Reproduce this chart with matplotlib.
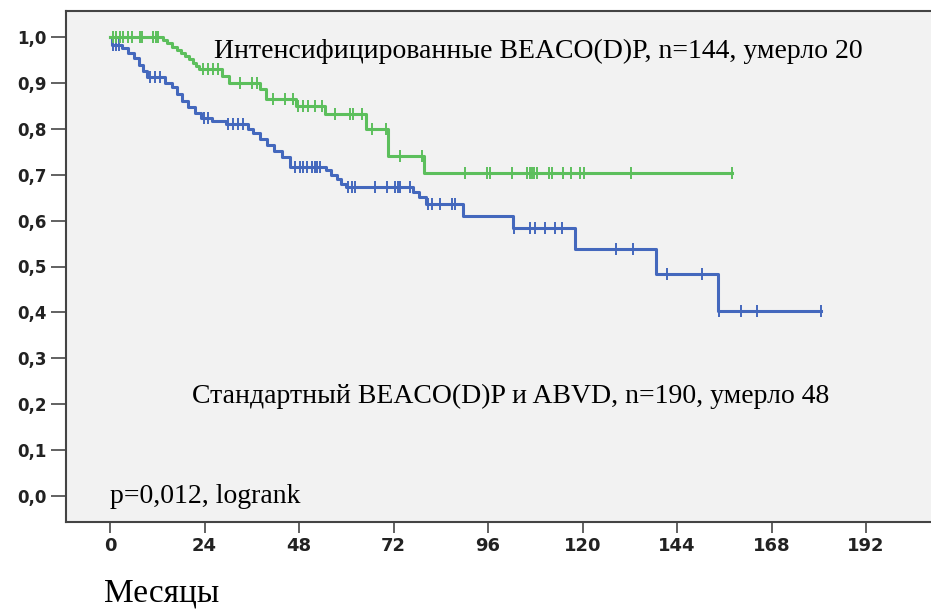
import numpy as np
import matplotlib
matplotlib.use("Agg")
import matplotlib.pyplot as plt

# intensified BEACO(D)P: event times (months) and survival after each event
green_t = [13.5, 14.5, 15.7, 17.0, 18.0, 19.0, 20.1, 21.1, 21.8, 22.6,
           28.4, 30.2, 38.1, 39.6, 47.2, 54.6, 65.0, 70.6, 79.7]
green_s = [0.993, 0.986, 0.979, 0.972, 0.965, 0.958, 0.951, 0.944, 0.937, 0.930,
           0.915, 0.900, 0.887, 0.864, 0.850, 0.832, 0.800, 0.740, 0.704]
green_end = 158.0
green_cens = [0.8, 1.5, 2.5, 3.3, 4.6, 5.6, 7.6, 8.1, 10.9, 11.7, 12.2,
              23.6, 24.9, 26.2, 27.4, 33.0, 36.1, 37.3,
              41.4, 44.4, 46.5, 47.7, 49.0, 50.3, 52.1, 53.8,
              57.1, 61.0, 61.7, 64.0, 66.5, 70.2, 73.7, 79.2,
              90.2, 95.7, 96.5, 102.1, 105.9, 106.7, 107.2, 107.7, 108.4,
              111.5, 112.3, 115.0, 117.1, 119.4, 120.4, 132.3, 158.0]

# standard BEACO(D)P and ABVD
blue_t = [0.5, 3.0, 4.6, 6.1, 7.4, 8.4, 9.4, 14.0, 15.7, 17.0, 18.3, 19.8,
          21.6, 23.1, 25.9, 29.5, 35.0, 36.3, 38.1, 39.9, 41.7, 43.7, 45.7,
          54.9, 56.1, 57.7, 58.7, 59.9, 77.0, 78.5, 80.3, 89.7, 102.4,
          118.1, 138.7, 154.4]
blue_s = [0.983, 0.975, 0.965, 0.955, 0.940, 0.925, 0.913, 0.900, 0.890, 0.875,
          0.860, 0.848, 0.834, 0.823, 0.817, 0.810, 0.800, 0.790, 0.778, 0.765,
          0.752, 0.738, 0.717, 0.710, 0.700, 0.690, 0.680, 0.674, 0.662, 0.652,
          0.636, 0.610, 0.583, 0.538, 0.484, 0.403]
blue_end = 180.6
blue_cens = [0.8, 1.5, 2.3, 10.2, 11.4, 12.7, 23.9, 24.9, 30.0, 31.2, 32.5, 33.8,
             47.0, 48.3, 49.0, 50.0, 51.3, 52.1, 52.6, 53.3,
             60.4, 61.5, 62.2, 67.3, 70.3, 72.4, 73.1, 73.7, 76.2,
             80.8, 81.8, 83.8, 86.9, 87.6,
             102.6, 106.7, 107.9, 110.5, 113.0, 114.8,
             128.5, 132.8, 141.5, 150.3, 154.7, 160.3, 164.3, 180.6]

xticks = [0, 24, 48, 72, 96, 120, 144, 168, 192]
yticks = [0.0, 0.1, 0.2, 0.3, 0.4, 0.5, 0.6, 0.7, 0.8, 0.9, 1.0]

label_int = "Интенсифицированные BEACO(D)P, n=144, умерло 20"
label_std = "Стандартный BEACO(D)P и ABVD, n=190, умерло 48"
label_p = "p=0,012, logrank"
xlabel = "Месяцы"

green_c = "#5cbf5c"
blue_c = "#4468bd"
serif = ["Liberation Serif", "DejaVu Serif"]


def curve(t, s, end):
    tt = np.array([0.0] + list(t) + [end])
    ss = np.array([1.0] + list(s) + [s[-1]])
    return tt, ss


def surv_at(t, s, x):
    idx = np.searchsorted(np.array(t), np.array(x), side="right")
    full = np.array([1.0] + list(s))
    return full[idx]


fig = plt.figure(figsize=(9.31, 6.11), dpi=100)
ax = fig.add_axes([66 / 931, 89 / 611, 1 - 66 / 931, 511 / 611])
ax.set_facecolor("#f2f2f2")

for t, s, end, cens, col in [(blue_t, blue_s, blue_end, blue_cens, blue_c),
                             (green_t, green_s, green_end, green_cens, green_c)]:
    tt, ss = curve(t, s, end)
    ax.step(tt, ss, where="post", color=col, lw=2.2, zorder=3)
    ax.plot(cens, surv_at(t, s, cens), ls="none", marker="|", ms=8,
            mew=1.4, color=col, zorder=3)

ax.set_xlim(-11.2, 208.5)
ax.set_ylim(-0.0566, 1.0566)
ax.set_xticks(xticks)
ax.set_xticklabels([str(v) for v in xticks])
ax.set_yticks(yticks)
ax.set_yticklabels([("%.1f" % v).replace(".", ",") for v in yticks])
for lab in ax.get_yticklabels():
    lab.set_fontweight("bold")
    lab.set_fontsize(12)
    lab.set_color("#222222")
for lab in ax.get_xticklabels():
    lab.set_fontweight("bold")
    lab.set_fontsize(13)
    lab.set_color("#222222")
ax.tick_params(axis="y", length=11, width=1.3, color="#555555", pad=3)
ax.tick_params(axis="x", length=8, width=1.3, color="#555555", pad=3)

ax.spines["right"].set_visible(False)
for sp in ["left", "bottom", "top"]:
    ax.spines[sp].set_color("#444444")
    ax.spines[sp].set_linewidth(1.5)

ax.text(26.4, 0.955, label_int, family=serif, fontsize=20, va="baseline")
ax.text(20.8, 0.203, label_std, family=serif, fontsize=20, va="baseline")
ax.text(0.0, -0.015, label_p, family=serif, fontsize=20, va="baseline")
fig.text(104 / 931, 9 / 611, xlabel, family=serif, fontsize=24, va="baseline")

fig.savefig("out.png", dpi=100)
